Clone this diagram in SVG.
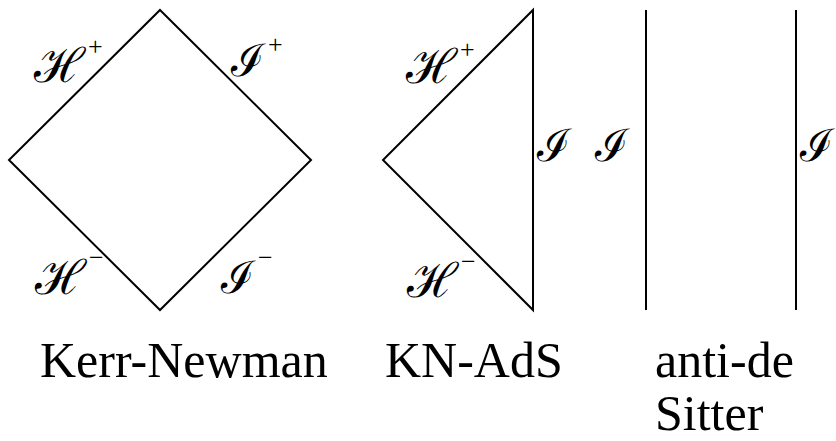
<svg xmlns="http://www.w3.org/2000/svg" width="836" height="441" viewBox="0 0 836 441">
<style>
.ln{fill:none;stroke:#000;stroke-width:2;stroke-linejoin:miter}
.cal{font-family:'DejaVu Serif','Liberation Serif',serif;font-size:48px;fill:#000}
.cali{font-family:'DejaVu Serif','Liberation Serif',serif;font-size:45px;fill:#000}
.sup{font-family:'Liberation Serif','Times New Roman',serif;font-size:26px;fill:#000}
.cap{font-family:'Liberation Serif','Times New Roman',Times,serif;font-size:50px;fill:#000}
</style>
<rect width="836" height="441" fill="#fff"/>
<g id="connectors">
<polygon id="kn-diamond" class="ln" points="160,10 311,160 160,310 9,160"/>
<polygon id="knads-triangle" class="ln" points="533,10 533,310 383,160"/>
<line id="ads-left" class="ln" x1="646" y1="10" x2="646" y2="310"/>
<line id="ads-right" class="ln" x1="796" y1="10" x2="796" y2="310"/>
</g>
<g id="kerr-newman">
<text class="cal" x="34" y="82">ℋ</text><text class="sup" x="88" y="55">+</text>
<text class="cali" x="231" y="76">ℐ</text><text class="sup" x="268" y="53">+</text>
<text class="cal" x="35" y="294">ℋ</text><text class="sup" x="89" y="266">−</text>
<text class="cali" x="221" y="293">ℐ</text><text class="sup" x="258" y="266">−</text>
<text class="cap" x="40" y="377">Kerr-Newman</text>
</g>
<g id="kn-ads">
<text class="cal" x="406" y="83">ℋ</text><text class="sup" x="460" y="58">+</text>
<text class="cal" x="407" y="297">ℋ</text><text class="sup" x="461" y="270">−</text>
<text class="cali" x="537" y="161">ℐ</text>
<text class="cap" x="385" y="377">KN-AdS</text>
</g>
<g id="anti-de-sitter">
<text class="cali" x="595" y="161">ℐ</text>
<text class="cali" x="800" y="161">ℐ</text>
<text class="cap" x="655" y="377">anti-de</text>
<text class="cap" x="655" y="430">Sitter</text>
</g>
</svg>
